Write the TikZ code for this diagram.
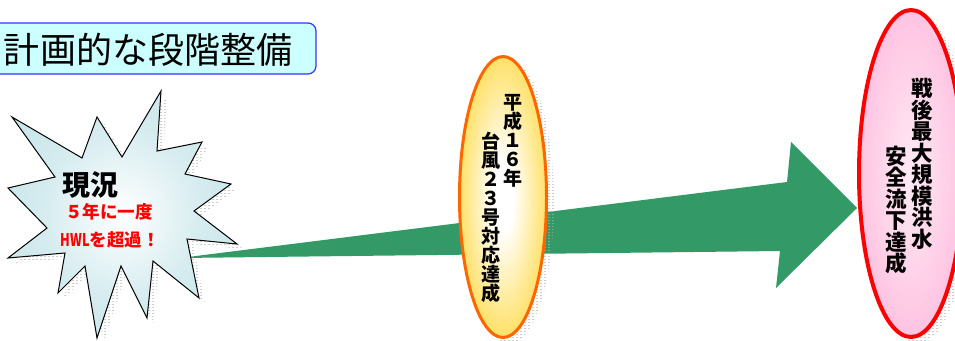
\documentclass[tikz,border=0pt]{standalone}
\usepackage{fontspec}
\newfontfamily\jp{Noto Sans CJK JP}
\usetikzlibrary{shapes.geometric,patterns}
\definecolor{arrowgreen}{RGB}{51,153,102}
\definecolor{titlefill}{RGB}{204,255,255}
\definecolor{titleborder}{RGB}{51,51,255}
\definecolor{burstedge}{RGB}{184,222,228}
\definecolor{goldfill}{RGB}{255,204,0}
\definecolor{orangeline}{RGB}{255,102,0}
\definecolor{pinkfill}{RGB}{255,172,214}
\pgfdeclareradialshading{burstshade}{\pgfpoint{0bp}{0bp}}{color(0bp)=(white); color(18bp)=(burstedge!60); color(45bp)=(burstedge); color(50bp)=(burstedge)}
\pgfdeclareradialshading{orangeshade}{\pgfpoint{0bp}{0bp}}{color(0bp)=(white); color(6bp)=(white); color(38bp)=(goldfill); color(50bp)=(goldfill)}
\pgfdeclareradialshading{pinkshade}{\pgfpoint{0bp}{0bp}}{color(0bp)=(pinkfill!25); color(40bp)=(pinkfill); color(50bp)=(pinkfill)}
\pgfdeclarepatternformonly{shadowdash}{\pgfqpoint{0pt}{0pt}}{\pgfqpoint{4pt}{3pt}}{\pgfqpoint{4pt}{3pt}}{\pgfpathrectangle{\pgfqpoint{0pt}{0pt}}{\pgfqpoint{2.5pt}{0.7pt}}\pgfusepath{fill}}
\tikzset{
  shadowfill/.style={pattern=shadowdash, pattern color=black!30},
  burst/.style={insert path={(161,91) -- (157,151) -- (202,142) -- (185,174) -- (231,184) -- (194,211) -- (237,244) -- (187,239) -- (199,298) -- (153,261) -- (147,318) -- (121,266) -- (97,338) -- (85,266) -- (58,293) -- (65,253) -- (8,258) -- (47,228) -- (8,188) -- (55,177) -- (12,117) -- (82,158) -- (97,117) -- (122,157) -- cycle}},
  vtext/.style={align=center, inner sep=0pt},
  orangetext/.style={vtext, font=\jp\bfseries\fontsize{19}{19}\selectfont},
  pinktext/.style={vtext, font=\jp\bfseries\fontsize{21.5}{21.5}\selectfont},
  redtext/.style={inner sep=0pt, text=red, font=\jp\bfseries\fontsize{17.5}{20}\selectfont},
}
\begin{document}
\begin{tikzpicture}[x=1pt,y=-1pt]
\useasboundingbox (0,0) rectangle (955,340);
% title
\draw[titleborder, fill=titlefill, line width=1.2pt, rounded corners=8pt] (-10,23) rectangle (316,74);
\node[inner sep=0pt, font=\jp\fontsize{36}{40}\selectfont] (title) at (148,50) {計画的な段階整備};
% arrow
\coordinate (tail) at (180,258);
\coordinate (su) at (787,182);
\coordinate (bu) at (791,142);
\coordinate (tip) at (857,208);
\coordinate (bl) at (776,288);
\coordinate (sl) at (780,251);
\fill[arrowgreen] (tail) -- (su) -- (bu) -- (tip) -- (bl) -- (sl) -- cycle;
% starburst
\path[shadowfill, shift={(6,5)}, burst];
\draw[line width=1pt, shading=burstshade, burst];
\node[inner sep=0pt, font=\jp\bfseries\fontsize{28}{30}\selectfont] (genkyo) at (90,185) {現況};
\node[redtext] (line1) at (109,212) {５年に一度};
\node[redtext] (line2) at (110,240) {\scalebox{0.72}[1]{HWL}を超過！};
% orange ellipse
\path[shadowfill] (509,202) ellipse [x radius=45pt, y radius=142pt];
\node[ellipse, draw=orangeline, line width=3pt, shading=orangeshade, minimum width=87pt, minimum height=281pt, inner sep=0pt] (typhoon) at (503,197) {};
\node[orangetext] (t1) at (513,141) {平\\成\\１\\６\\年};
\node[orangetext] (t2) at (491,217.5) {台\\風\\２\\３\\号\\対\\応\\達\\成};
% pink ellipse
\path[shadowfill] (917,179) ellipse [x radius=54pt, y radius=165pt];
\node[ellipse, draw=red, line width=4pt, shading=pinkshade, minimum width=104pt, minimum height=327pt, inner sep=0pt] (goal) at (911,173.5) {};
\node[pinktext] (p1) at (922,164) {戦\\後\\最\\大\\規\\模\\洪\\水};
\node[pinktext] (p2) at (896,210) {安\\全\\流\\下\\達\\成};
\end{tikzpicture}
\end{document}
